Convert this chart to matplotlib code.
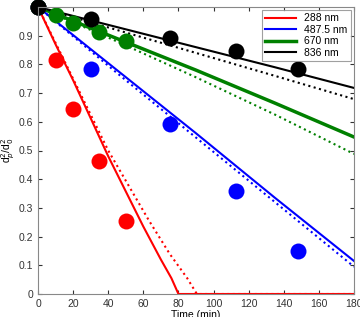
import numpy as np
import matplotlib.pyplot as plt

plt.rcParams['font.family'] = ['Liberation Sans', 'DejaVu Sans']

# measured points (time in min, normalised d^2)
t_288 = [0, 10, 20, 35, 50]
y_288 = [1.0, 0.815, 0.645, 0.465, 0.255]
t_487 = [0, 30, 75, 113, 148]
y_487 = [1.0, 0.783, 0.592, 0.36, 0.15]
t_670 = [0, 10, 20, 35, 50]
y_670 = [1.0, 0.972, 0.944, 0.913, 0.88]
t_836 = [0, 30, 75, 113, 148]
y_836 = [1.0, 0.957, 0.893, 0.847, 0.783]

# model curves
tm_288 = [0, 10, 20, 40, 60, 70, 76, 80, 180]
ys_288 = [1.0, 0.87, 0.745, 0.48, 0.235, 0.12, 0.055, 0.0, 0.0]
tmd_288 = [0, 10, 20, 40, 63, 75, 85, 90.5, 180]
yd_288 = [1.0, 0.875, 0.75, 0.5, 0.258, 0.14, 0.055, 0.0, 0.0]

tm = [0, 45, 90, 135, 180]
ys_487 = [1.0, 0.78, 0.56, 0.335, 0.115]
yd_487 = [1.0, 0.77, 0.545, 0.32, 0.095]
ys_670 = [1.0, 0.89, 0.78, 0.665, 0.547]
yd_670 = [1.0, 0.88, 0.755, 0.625, 0.488]
ys_836 = [1.0, 0.93, 0.86, 0.79, 0.718]
yd_836 = [1.0, 0.92, 0.84, 0.76, 0.679]

labels = ['288 nm', '487.5 nm', '670 nm', '836 nm']
red, blue, green, black = 'red', 'blue', 'green', 'black'

fig = plt.figure(figsize=(3.6, 3.17), dpi=100)
ax = fig.add_axes([38/360, 23/317, 316/360, 287/317])

ax.plot(tm_288, ys_288, color=red, lw=1.5, label=labels[0])
ax.plot(tm, ys_487, color=blue, lw=1.5, label=labels[1])
ax.plot(tm, ys_670, color=green, lw=2.5, label=labels[2])
ax.plot(tm, ys_836, color=black, lw=1.5, label=labels[3])

ax.plot(tmd_288, yd_288, color=red, lw=1.5, ls=':')
ax.plot(tm, yd_487, color=blue, lw=1.5, ls=':')
ax.plot(tm, yd_670, color=green, lw=1.5, ls=':')
ax.plot(tm, yd_836, color=black, lw=1.5, ls=':')

ms = 11.5
ax.plot(t_288, y_288, 'o', color=red, ms=ms, mec='none', clip_on=False)
ax.plot(t_487, y_487, 'o', color=blue, ms=ms, mec='none', clip_on=False)
ax.plot(t_670, y_670, 'o', color=green, ms=ms, mec='none', clip_on=False)
ax.plot(t_836, y_836, 'o', color=black, ms=ms, mec='none', clip_on=False)

ax.set_xlim(0, 180)
ax.set_ylim(0, 1)
ax.set_xticks(np.arange(0, 181, 20))
ax.set_yticks(np.arange(0, 0.91, 0.1))
ax.set_yticklabels(['0', '0.1', '0.2', '0.3', '0.4', '0.5', '0.6', '0.7', '0.8', '0.9'])
ax.tick_params(direction='in', top=True, right=True, labelsize=7.5, colors='#333333', length=3)
for s in ax.spines.values():
    s.set_color('#888888')

ax.set_xlabel('Time (min)', fontsize=7.5, labelpad=1)
ax.set_ylabel(r'd$_p^2$/d$_0^2$', fontsize=7.5, labelpad=1)

leg = ax.legend(loc='upper right', fontsize=7.5, fancybox=False, edgecolor='#888888',
                handlelength=3, borderaxespad=0.3, labelspacing=0.15, borderpad=0.3)
leg.get_frame().set_linewidth(0.8)

fig.savefig('out.png', dpi=100)
